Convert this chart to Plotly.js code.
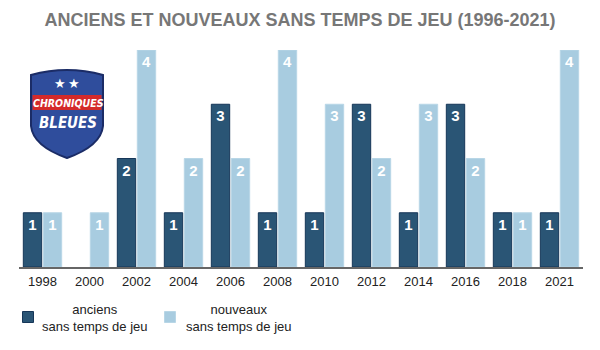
<!DOCTYPE html>
<html>
<head>
<meta charset="utf-8">
<script src="https://cdn.plot.ly/plotly-3.0.1.min.js"></script>
<style>html,body{margin:0;padding:0;background:#fff;}#chart{width:600px;height:350px;}</style>
</head>
<body>
<div id="chart"></div>
<script>
const years = ['1998','2000','2002','2004','2006','2008','2010','2012','2014','2016','2018','2021'];
const anciens = [1,0,2,1,3,1,1,3,1,3,1,1];
const nouveaux = [1,1,4,2,2,4,3,2,3,2,1,4];
const seriesNames = ['anciens', 'nouveaux'];
const seriesSub = 'sans temps de jeu';
const titleText = 'ANCIENS ET NOUVEAUX SANS TEMPS DE JEU (1996-2021)';
const colors = ['#2a5575', '#a8cce0'];
const lineColors = ['#163658', '#b8d6e6'];

const W = 600, H = 350;
const M = {l: 19, r: 17, t: 50, b: 83, autoexpand: false};
const PW = W - M.l - M.r, PH = H - M.t - M.b;
const px = x => (x - M.l) / PW;
const py = y => (H - M.b - y) / PH;

const txt = arr => arr.map(v => v > 0 ? String(v) : '');
const lw = arr => arr.map(v => v > 0 ? 1 : 0);
const baseFont = 'Liberation Sans, Arial, sans-serif';
const textFont = {family: baseFont, size: 15, color: '#ffffff', weight: 'bold'};

const traces = [anciens, nouveaux].map((vals, i) => ({
  type: 'bar', x: years, y: vals, name: seriesNames[i] + ' ' + seriesSub, text: txt(vals),
  textposition: 'inside', insidetextanchor: 'end', textangle: 0, constraintext: 'none',
  insidetextfont: textFont, hoverinfo: 'skip', showlegend: false,
  marker: {color: colors[i], line: {color: lineColors[i], width: lw(vals)}}
}));

const shieldPath = 'M ' + px(31) + ' ' + py(75) +
  ' Q ' + px(67) + ' ' + py(65) + ' ' + px(103) + ' ' + py(75) +
  ' L ' + px(103) + ' ' + py(126) +
  ' Q ' + px(101) + ' ' + py(146) + ' ' + px(67) + ' ' + py(158) +
  ' Q ' + px(33) + ' ' + py(146) + ' ' + px(31) + ' ' + py(126) + ' Z';

const rectPx = (x0, y0, x1, y1, fill, line, lwid) => ({type: 'rect', xref: 'paper', yref: 'paper',
  x0: px(x0), x1: px(x1), y0: py(y1), y1: py(y0), fillcolor: fill,
  line: {color: line || fill, width: lwid || 0}, layer: 'above'});

const shapes = [
  {type: 'path', xref: 'paper', yref: 'paper', path: shieldPath,
   fillcolor: '#2f4d9c', line: {color: '#1b2c66', width: 2}, layer: 'above'},
  rectPx(32.5, 95, 101.5, 110, '#d42a2a'),
  // legend swatches
  rectPx(22.5, 311.5, 33.5, 322.5, colors[0], lineColors[0], 1),
  rectPx(164.5, 311.5, 175.5, 322.5, colors[1], lineColors[1], 1)
];

const logoFont = 'Liberation Sans Narrow, DejaVu Sans Condensed, Arial Narrow, sans-serif';
const ann = (x, y, text, font, extra) => Object.assign({xref: 'paper', yref: 'paper', x: px(x), y: py(y), text: text,
  showarrow: false, xanchor: 'center', yanchor: 'middle', font: font}, extra || {});
const legFont = {family: baseFont, size: 13, color: '#222222'};
const annotations = [
  ann(60, 83, '★', {family: 'DejaVu Sans', size: 13, color: '#ffffff'}),
  ann(74, 83, '★', {family: 'DejaVu Sans', size: 13, color: '#ffffff'}),
  ann(68, 102.5, 'CHRONIQUES', {family: logoFont, size: 10.5, color: '#ffffff', weight: 'bold', style: 'italic'}),
  ann(68, 123, 'BLEUES', {family: logoFont, size: 15, color: '#ffffff', weight: 'bold', style: 'italic'}),
  ann(94.5, 318, seriesNames[0] + '<br>' + seriesSub, legFont, {align: 'center'}),
  ann(238.5, 318, seriesNames[1] + '<br>' + seriesSub, legFont, {align: 'center'})
];

const layout = {
  width: W, height: H,
  margin: M,
  paper_bgcolor: '#ffffff', plot_bgcolor: '#ffffff',
  title: {text: titleText, x: 0.5, xanchor: 'center', y: 1 - 20/H, yanchor: 'middle', yref: 'container',
          font: {family: baseFont, size: 18, color: '#777777', weight: 'bold'}},
  barmode: 'group', bargap: 0.15, bargroupgap: 0.08,
  xaxis: {type: 'category', showline: true, linecolor: '#666666', linewidth: 2, ticks: '',
          ticklabelstandoff: 1,
          showgrid: false, zeroline: false, fixedrange: true,
          tickfont: {family: baseFont, size: 13, color: '#222222'}},
  yaxis: {range: [0, 4], visible: false, showgrid: false, zeroline: false, fixedrange: true},
  showlegend: false,
  shapes: shapes,
  annotations: annotations
};

Plotly.newPlot('chart', traces, layout, {displayModeBar: false, staticPlot: true});
</script>
</body>
</html>
